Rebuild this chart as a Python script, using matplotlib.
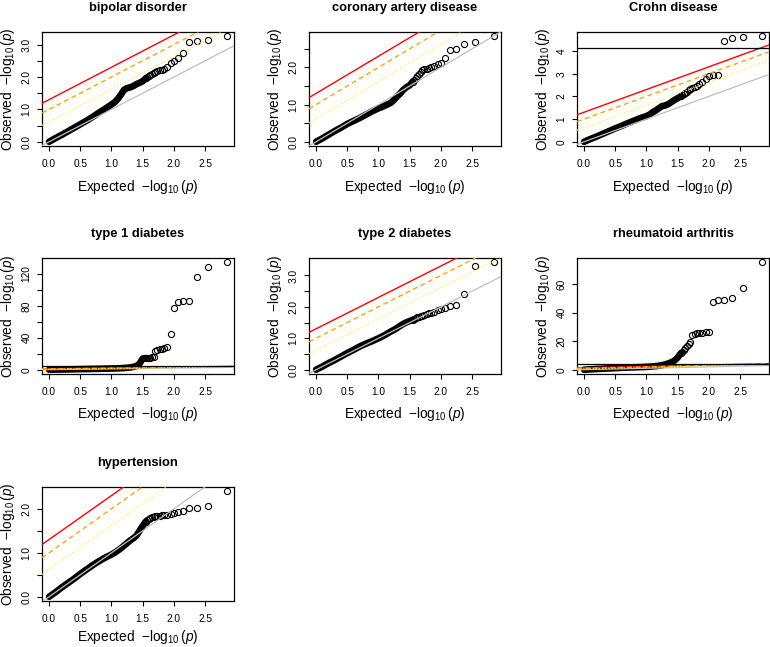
import numpy as np
import matplotlib.pyplot as plt

plt.rcParams['font.family'] = ['Liberation Sans', 'DejaVu Sans']
plt.rcParams['mathtext.fontset'] = 'custom'
plt.rcParams['mathtext.rm'] = 'Liberation Sans'
plt.rcParams['mathtext.it'] = 'Liberation Sans:italic'

# QQ plots of GWAS p-values, one panel per disease
n_snps = 707
alpha = 0.05

titles = ["bipolar disorder", "coronary artery disease", "Crohn disease",
          "type 1 diabetes", "type 2 diabetes", "rheumatoid arthritis",
          "hypertension"]

# observed -log10(p) of the 20 smallest p-values (rank 1..20)
bipolar_tail = [3.26, 3.13, 3.11, 3.09, 2.75, 2.59, 2.48, 2.43, 2.30, 2.25,
                2.23, 2.21, 2.19, 2.15, 2.12, 2.10, 2.07, 2.03, 2.00, 1.96]
cad_tail = [2.84, 2.69, 2.63, 2.50, 2.48, 2.25, 2.12, 2.09, 2.05, 2.01,
            1.99, 1.97, 1.95, 1.92, 1.88, 1.83, 1.77, 1.72, 1.67, 1.62]
crohn_tail = [4.65, 4.62, 4.55, 4.46, 2.95, 2.94, 2.91, 2.78, 2.65, 2.55,
              2.46, 2.40, 2.37, 2.33, 2.27, 2.20, 2.15, 2.10, 2.05, 2.00]
t1d_tail = [134.5, 128.4, 116.0, 86.5, 86.5, 84.2, 77.0, 44.2, 28.0, 27.6,
            26.5, 25.5, 24.5, 23.0, 16.5, 15.5, 15.2, 15.0, 14.8, 14.5]
t2d_tail = [3.42, 3.31, 2.42, 2.06, 2.03, 1.98, 1.93, 1.89, 1.85, 1.82,
            1.79, 1.76, 1.74, 1.72, 1.70, 1.69, 1.67, 1.65, 1.62, 1.59]
ra_tail = [75.3, 57.0, 50.4, 49.1, 49.0, 47.3, 26.4, 26.1, 25.8, 25.6,
           25.4, 25.1, 24.4, 19.5, 18.0, 16.8, 15.2, 13.8, 12.5, 11.5]
ht_tail = [2.40, 2.06, 2.01, 2.01, 1.95, 1.93, 1.91, 1.89, 1.87, 1.86,
           1.85, 1.84, 1.84, 1.83, 1.82, 1.81, 1.79, 1.77, 1.74, 1.71]

# the dense bulk of points, read along the band at these expected values
bulk_exp = [1.55, 1.5, 1.45, 1.4, 1.35, 1.3, 1.25, 1.2, 1.15, 1.1, 1.05,
            1.0, 0.9, 0.8, 0.7, 0.6, 0.5, 0.4, 0.3, 0.2, 0.1, 0.0]
bipolar_bulk = [1.96, 1.87, 1.82, 1.78, 1.72, 1.68, 1.66, 1.60, 1.45, 1.32, 1.22,
                1.15, 1.02, 0.90, 0.77, 0.65, 0.54, 0.43, 0.32, 0.21, 0.11, 0.0]
cad_bulk = [1.62, 1.52, 1.47, 1.40, 1.30, 1.22, 1.13, 1.05, 1.01, 0.97, 0.93,
            0.90, 0.82, 0.73, 0.64, 0.56, 0.48, 0.38, 0.29, 0.19, 0.09, 0.0]
crohn_bulk = [2.00, 1.92, 1.84, 1.75, 1.66, 1.60, 1.57, 1.48, 1.38, 1.30, 1.20,
              1.13, 1.04, 0.93, 0.82, 0.70, 0.59, 0.47, 0.35, 0.23, 0.12, 0.0]
t1d_bulk = [14.5, 14.0, 7.5, 4.5, 3.6, 2.8, 2.4, 2.1, 1.9, 1.7, 1.6,
            1.5, 1.3, 1.15, 1.0, 0.85, 0.7, 0.55, 0.4, 0.27, 0.13, 0.0]
t2d_bulk = [1.59, 1.55, 1.51, 1.46, 1.40, 1.33, 1.27, 1.22, 1.16, 1.10, 1.05,
            1.00, 0.91, 0.83, 0.74, 0.63, 0.53, 0.42, 0.31, 0.21, 0.10, 0.0]
ra_bulk = [11.5, 8.5, 6.4, 5.2, 4.4, 3.7, 3.2, 2.8, 2.5, 2.3, 2.1,
           2.0, 1.8, 1.65, 1.5, 1.35, 1.1, 0.9, 0.7, 0.5, 0.25, 0.0]
ht_bulk = [1.71, 1.61, 1.50, 1.39, 1.33, 1.28, 1.22, 1.16, 1.10, 1.05, 1.00,
           0.96, 0.89, 0.81, 0.72, 0.62, 0.52, 0.41, 0.31, 0.21, 0.10, 0.0]

tails = [bipolar_tail, cad_tail, crohn_tail, t1d_tail, t2d_tail, ra_tail, ht_tail]
bulks = [bipolar_bulk, cad_bulk, crohn_bulk, t1d_bulk, t2d_bulk, ra_bulk, ht_bulk]

# y tick spacing and labelled ticks for each panel
ytick_step = [0.5, 0.5, 1, 20, 0.5, 20, 0.5]
ylabel_every = [2, 2, 1, 2, 2, 1, 2]
ydigits = [1, 1, 0, 0, 1, 0, 1]

# reference lines: y = x + offset
offsets = [np.log10(20), 1.0, 0.62]
thresh = -np.log10(alpha / n_snps)

fig = plt.figure(figsize=(7.7, 6.47), dpi=100)
W, H = 770, 647
lefts = [42, 309, 577]
tops = [32, 258, 487]
bottoms = [146, 374, 601]
xlab_off = [41, 40, 36]
aw = 192

ranks = np.arange(1, 21)
tail_exp = -np.log10(ranks / (n_snps + 1))
x_lo = -np.log10(n_snps / (n_snps + 1))
x_hi = tail_exp[0]

for i, title in enumerate(titles):
    r, c = divmod(i, 3)
    ax = fig.add_axes([lefts[c] / W, 1 - bottoms[r] / H, aw / W,
                       (bottoms[r] - tops[r]) / H])
    tail = tails[i]
    bulk = bulks[i]

    ax.plot(bulk_exp, bulk, color='black', lw=4.8,
            solid_capstyle='round', solid_joinstyle='round', zorder=2)
    ax.plot(tail_exp, tail, 'o', mfc='none', mec='black', ms=4.4, mew=0.8,
            zorder=2)

    ax.axline((0, 0), slope=1, color='#bebebe', lw=0.9, zorder=3)
    ax.axline((0, offsets[0]), slope=1, color='red', lw=1.0, zorder=3)
    ax.axline((0, offsets[1]), slope=1, color='#ffa500', lw=1.0,
              dashes=(3.5, 2.5), zorder=3)
    ax.axline((0, offsets[2]), slope=1, color='#fff23a', lw=0.9,
              dashes=(1, 1.5), zorder=3)
    ax.axhline(thresh, color='black', lw=0.9, zorder=3)

    y_hi = max(tail)
    y_lo = 0.0
    px = 0.04 * (x_hi - x_lo)
    py = 0.04 * (y_hi - y_lo)
    ax.set_xlim(x_lo - px, x_hi + px)
    ax.set_ylim(y_lo - py, y_hi + py)

    xt = np.arange(0, 2.51, 0.5)
    ax.set_xticks(xt)
    ax.set_xticklabels([f"{v:.1f}" for v in xt])
    yt = np.arange(0, y_hi + 1e-9, ytick_step[i])
    ax.set_yticks(yt)
    ax.set_yticklabels([f"{v:.{ydigits[i]}f}" if k % ylabel_every[i] == 0 else ""
                        for k, v in enumerate(yt)])
    ax.tick_params(direction='out', length=3.5, width=0.8, labelsize=7.3,
                   pad=4)
    ax.tick_params(axis='x', pad=6)
    ax.tick_params(axis='y', labelrotation=90)
    for lab in ax.get_yticklabels():
        lab.set_va('center')
    for s in ax.spines.values():
        s.set_linewidth(0.9)

    ax.set_title(title, fontsize=9.3, fontweight='bold', pad=15)
    ax.set_xlabel(r'Expected  $-\log_{10}(p)$', fontsize=9.8, va='center')
    ax.set_ylabel(r'Observed  $-\log_{10}(p)$', fontsize=9.8, va='center')
    h = bottoms[r] - tops[r]
    ax.xaxis.set_label_coords(0.5, -xlab_off[r] / h)
    ax.yaxis.set_label_coords(-34 / aw, 0.5)

fig.savefig('out.png', dpi=100)
